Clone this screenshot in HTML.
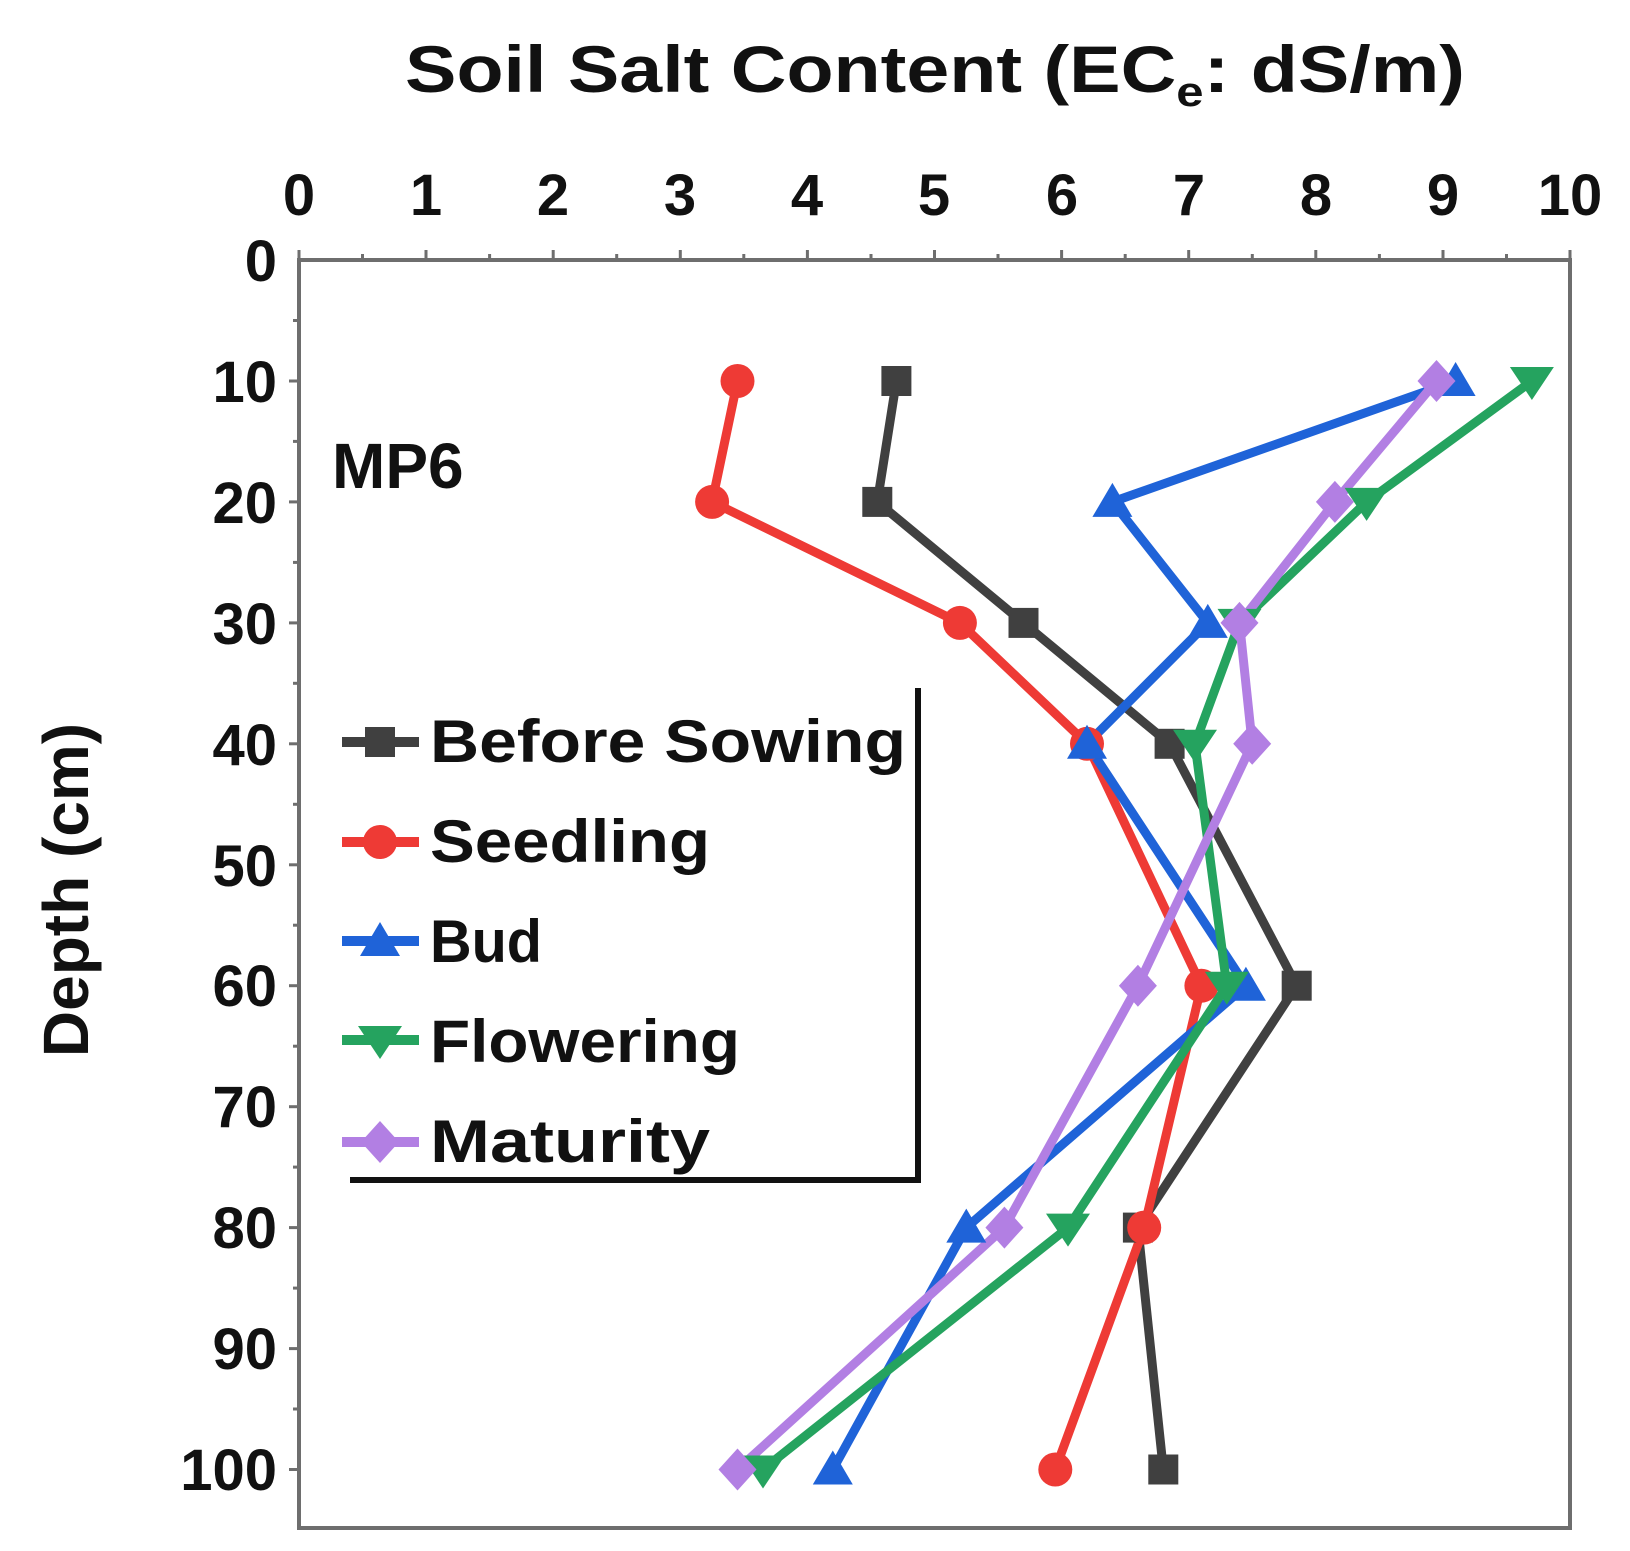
<!DOCTYPE html>
<html><head><meta charset="utf-8"><style>
html,body{margin:0;padding:0;background:#fff;}
svg{display:block;font-family:"Liberation Sans",sans-serif;font-weight:bold;}
</style></head><body>
<svg width="1630" height="1551" viewBox="0 0 1630 1551" xmlns="http://www.w3.org/2000/svg">
<rect width="1630" height="1551" fill="#fff"/>
<text x="935" y="92" font-size="66" text-anchor="middle" fill="#111" textLength="1060" lengthAdjust="spacingAndGlyphs">Soil Salt Content (EC<tspan font-size="42" dy="14">e</tspan><tspan dy="-14">: dS/m)</tspan></text>
<g stroke="#6e6e6e" stroke-width="4" fill="none">
<rect x="299" y="260" width="1271" height="1268"/>
</g>
<g stroke="#6e6e6e" stroke-width="3">
<line x1="299" y1="260" x2="299" y2="250"/><line x1="362.5" y1="260" x2="362.5" y2="254"/>
<line x1="426" y1="260" x2="426" y2="250"/><line x1="489.6" y1="260" x2="489.6" y2="254"/>
<line x1="553.2" y1="260" x2="553.2" y2="250"/><line x1="616.7" y1="260" x2="616.7" y2="254"/>
<line x1="680.3" y1="260" x2="680.3" y2="250"/><line x1="743.8" y1="260" x2="743.8" y2="254"/>
<line x1="807.4" y1="260" x2="807.4" y2="250"/><line x1="871" y1="260" x2="871" y2="254"/>
<line x1="934.5" y1="260" x2="934.5" y2="250"/><line x1="998" y1="260" x2="998" y2="254"/>
<line x1="1061.6" y1="260" x2="1061.6" y2="250"/><line x1="1125.2" y1="260" x2="1125.2" y2="254"/>
<line x1="1188.7" y1="260" x2="1188.7" y2="250"/><line x1="1252.3" y1="260" x2="1252.3" y2="254"/>
<line x1="1315.8" y1="260" x2="1315.8" y2="250"/><line x1="1379.4" y1="260" x2="1379.4" y2="254"/>
<line x1="1443" y1="260" x2="1443" y2="250"/><line x1="1506.5" y1="260" x2="1506.5" y2="254"/>
<line x1="1570" y1="260" x2="1570" y2="250"/>
<line x1="299" y1="320.5" x2="293" y2="320.5"/><line x1="299" y1="381" x2="289" y2="381"/>
<line x1="299" y1="441.4" x2="293" y2="441.4"/><line x1="299" y1="501.9" x2="289" y2="501.9"/>
<line x1="299" y1="562.4" x2="293" y2="562.4"/><line x1="299" y1="622.9" x2="289" y2="622.9"/>
<line x1="299" y1="683.3" x2="293" y2="683.3"/><line x1="299" y1="743.8" x2="289" y2="743.8"/>
<line x1="299" y1="804.3" x2="293" y2="804.3"/><line x1="299" y1="864.8" x2="289" y2="864.8"/>
<line x1="299" y1="925.2" x2="293" y2="925.2"/><line x1="299" y1="985.7" x2="289" y2="985.7"/>
<line x1="299" y1="1046.2" x2="293" y2="1046.2"/><line x1="299" y1="1106.7" x2="289" y2="1106.7"/>
<line x1="299" y1="1167.1" x2="293" y2="1167.1"/><line x1="299" y1="1227.6" x2="289" y2="1227.6"/>
<line x1="299" y1="1288.1" x2="293" y2="1288.1"/><line x1="299" y1="1348.6" x2="289" y2="1348.6"/>
<line x1="299" y1="1409" x2="293" y2="1409"/><line x1="299" y1="1469.5" x2="289" y2="1469.5"/>
</g>
<g font-size="58" fill="#111" text-anchor="middle">
<text x="299" y="215">0</text><text x="426" y="215">1</text><text x="553" y="215">2</text>
<text x="680" y="215">3</text><text x="807" y="215">4</text><text x="934" y="215">5</text>
<text x="1062" y="215">6</text><text x="1189" y="215">7</text><text x="1316" y="215">8</text>
<text x="1443" y="215">9</text><text x="1570" y="215">10</text>
</g>
<g font-size="58" fill="#111" text-anchor="end">
<text x="277" y="281">0</text><text x="277" y="402">10</text><text x="277" y="523">20</text>
<text x="277" y="644">30</text><text x="277" y="765">40</text><text x="277" y="886">50</text>
<text x="277" y="1006">60</text><text x="277" y="1127">70</text><text x="277" y="1248">80</text>
<text x="277" y="1369">90</text><text x="277" y="1490">100</text>
</g>
<text transform="translate(88,890) rotate(-90)" font-size="64" fill="#111" text-anchor="middle">Depth (cm)</text>
<text x="332" y="488" font-size="64" fill="#111">MP6</text>

<defs>
<rect id="sq" x="-15" y="-15" width="30" height="30" fill="#404040"/>
<circle id="ci" r="17" fill="#ee3a35"/>
<polygon id="tu" points="0,-19 20,15 -20,15" fill="#1f63d8"/>
<polygon id="td" points="0,19 22,-14 -22,-14" fill="#25a35f"/>
<polygon id="di" points="0,-21 19,0 0,21 -19,0" fill="#b27fe3"/>
</defs>
<g fill="none" stroke-width="9" stroke-linejoin="round">
<polyline stroke="#404040" points="896.4,381 877.3,501.9 1023.5,622.9 1169.6,743.8 1296.7,985.7 1137.9,1227.6 1163.3,1469.5"/>
<polyline stroke="#ee3a35" points="737.5,381 712.1,501.9 959.9,622.9 1087,743.8 1201.4,985.7 1144.2,1227.6 1055.3,1469.5"/>
<polyline stroke="#1f63d8" points="1455.6,381 1112.4,501.9 1207.8,622.9 1087,743.8 1245.9,985.7 966.3,1227.6 832.8,1469.5"/>
<polyline stroke="#25a35f" points="1531.9,381 1366.6,501.9 1239.5,622.9 1195,743.8 1226.8,985.7 1068,1227.6 763,1469.5"/>
<polyline stroke="#b27fe3" points="1436.5,381 1334.9,501.9 1239.5,622.9 1252.2,743.8 1137.9,985.7 1004.4,1227.6 737.5,1469.5"/>
</g>
<g>
<use href="#sq" x="896.4" y="381"/><use href="#sq" x="877.3" y="501.9"/><use href="#sq" x="1023.5" y="622.9"/><use href="#sq" x="1169.6" y="743.8"/><use href="#sq" x="1296.7" y="985.7"/><use href="#sq" x="1137.9" y="1227.6"/><use href="#sq" x="1163.3" y="1469.5"/>
<use href="#ci" x="737.5" y="381"/><use href="#ci" x="712.1" y="501.9"/><use href="#ci" x="959.9" y="622.9"/><use href="#ci" x="1087" y="743.8"/><use href="#ci" x="1201.4" y="985.7"/><use href="#ci" x="1144.2" y="1227.6"/><use href="#ci" x="1055.3" y="1469.5"/>
<use href="#tu" x="1455.6" y="381"/><use href="#tu" x="1112.4" y="501.9"/><use href="#tu" x="1207.8" y="622.9"/><use href="#tu" x="1087" y="743.8"/><use href="#tu" x="1245.9" y="985.7"/><use href="#tu" x="966.3" y="1227.6"/><use href="#tu" x="832.8" y="1469.5"/>
<use href="#td" x="1531.9" y="381"/><use href="#td" x="1366.6" y="501.9"/><use href="#td" x="1239.5" y="622.9"/><use href="#td" x="1195" y="743.8"/><use href="#td" x="1226.8" y="985.7"/><use href="#td" x="1068" y="1227.6"/><use href="#td" x="763" y="1469.5"/>
<use href="#di" x="1436.5" y="381"/><use href="#di" x="1334.9" y="501.9"/><use href="#di" x="1239.5" y="622.9"/><use href="#di" x="1252.2" y="743.8"/><use href="#di" x="1137.9" y="985.7"/><use href="#di" x="1004.4" y="1227.6"/><use href="#di" x="737.5" y="1469.5"/>
</g>

<rect x="346" y="690" width="572" height="490" fill="#fff"/>
<polyline points="918,688 918,1180 350,1180" fill="none" stroke="#111" stroke-width="6"/>
<g stroke-width="10">
<line x1="342" y1="742" x2="419" y2="742" stroke="#404040"/>
<line x1="342" y1="842" x2="419" y2="842" stroke="#ee3a35"/>
<line x1="342" y1="941" x2="419" y2="941" stroke="#1f63d8"/>
<line x1="342" y1="1040" x2="419" y2="1040" stroke="#25a35f"/>
<line x1="342" y1="1142" x2="419" y2="1142" stroke="#b27fe3"/>
</g>
<use href="#sq" x="380" y="742"/><use href="#ci" x="380" y="842"/><use href="#tu" x="380" y="941"/><use href="#td" x="380" y="1040"/><use href="#di" x="380" y="1142"/>
<g font-size="60" fill="#111">
<text x="430" y="762" textLength="476" lengthAdjust="spacingAndGlyphs">Before Sowing</text>
<text x="430" y="862" textLength="280" lengthAdjust="spacingAndGlyphs">Seedling</text>
<text x="430" y="962" textLength="112" lengthAdjust="spacingAndGlyphs">Bud</text>
<text x="430" y="1062" textLength="310" lengthAdjust="spacingAndGlyphs">Flowering</text>
<text x="430" y="1162" textLength="280" lengthAdjust="spacingAndGlyphs">Maturity</text>
</g>
</svg>
</body></html>
